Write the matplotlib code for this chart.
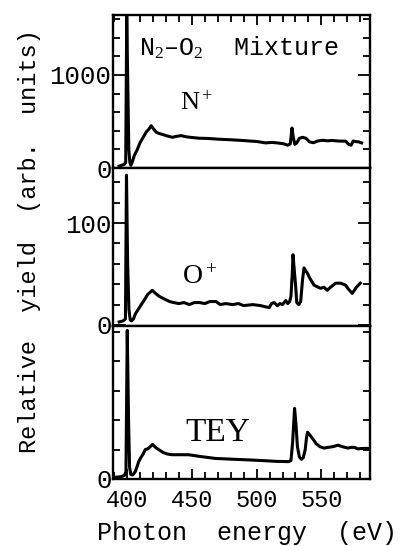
import numpy as np
import matplotlib
matplotlib.use("Agg")
import matplotlib.pyplot as plt
from matplotlib.ticker import MultipleLocator, FixedLocator

plt.rcParams['font.family'] = ['Liberation Mono', 'DejaVu Sans']
plt.rcParams['mathtext.fontset'] = 'custom'
plt.rcParams['mathtext.rm'] = 'Liberation Serif'
plt.rcParams['mathtext.it'] = 'Liberation Serif:italic'

# N+ ion yield (arb. units)
n_energy = [394, 396, 398, 399, 399.8, 400.6, 401.4, 402.2, 403, 404, 405.5, 408, 410, 412.5, 415, 417,
            418.7, 420.5, 422.5, 425, 427.6, 431, 435, 438, 441.7, 446, 450, 455.8, 462, 470, 481, 490,
            500, 507, 512, 517, 521, 524, 526, 527.3, 528.3, 529.5, 531, 533, 535.5, 538, 541, 544, 547,
            551, 555, 558, 563, 568.7, 571, 573, 574.5, 576, 579, 581]
n_yield = [20, 30, 40, 60, 1640, 900, 200, 60, 30, 60, 130, 200, 270, 330, 390, 420,
           455, 420, 385, 370, 360, 345, 330, 340, 348, 335, 328, 320, 318, 310, 303, 295,
           285, 270, 275, 268, 260, 245, 260, 430, 330, 255, 270, 320, 330, 320, 280, 272, 290,
           298, 292, 296, 290, 288, 255, 245, 290, 285, 280, 270]

# O+ ion yield (arb. units)
o_energy = [394, 397, 398.8, 399.6, 400.5, 401.5, 402.5, 403.5, 405, 406.5, 408.5, 411, 413.6, 416,
            419.5, 422, 425, 428, 432.8, 436, 440, 444, 448, 452, 456, 460, 464, 468.7, 472, 476,
            481.5, 486, 490, 497, 503, 509.7, 511.5, 513.5, 516, 518, 520, 522.5, 524, 525.5, 526.5,
            527.5, 528.1, 529, 530, 531, 532.5, 534, 535.5, 536.6, 538, 539.1, 541, 544.3, 546,
            549.4, 552, 554.5, 557, 561, 565, 568.7, 571, 573.8, 577, 580]
o_yield = [3, 4, 6, 147, 60, 15, 5, 4, 6, 11, 15, 20, 25, 30,
           34, 31, 28, 26, 23, 22, 21, 22, 20, 22, 22, 21, 23, 23, 20, 21,
           20, 21, 19, 20, 19, 17, 21, 22, 19, 21, 20, 24, 21, 23, 28,
           50, 69, 55, 40, 22, 20, 23, 45, 56, 53, 51, 46, 39, 38,
           36, 37, 34, 37, 41, 41, 39, 35, 31, 37, 41]

# total electron yield (arb. units)
tey_energy = [391, 395, 398, 399.2, 400.2, 401.2, 402, 403, 404.5, 406.4, 408, 409, 411, 412.5, 414.1,
              416, 418, 419.8, 422, 424.4, 428, 431, 434.6, 440, 447.5, 455, 468, 480, 493.6, 505,
              515, 524.4, 526.5, 527.8, 529.3, 530.3, 531.5, 533, 534.6, 536, 537.5, 538.5, 539.3,
              541, 543.6, 546, 548.8, 552, 555.2, 559, 562.8, 566, 570.5, 573, 575.6, 578, 580.8,
              584, 588]
tey_yield = [1.2, 1.5, 2.4, 5, 101, 40, 8, 3, 2.8, 5, 9, 11.8, 15, 17, 20,
             20.5, 22, 23.5, 21.5, 20, 18, 17, 16.5, 16.5, 16.5, 15.5, 14, 13.5, 13, 12.5,
             12, 11.8, 12.5, 25, 48, 38, 22, 15, 13.4, 14.5, 20, 28, 31.8,
             30, 27, 24, 22, 21, 21.5, 22, 23, 22, 21, 21.5, 21.5, 20.5, 20.7,
             20.8, 20.7]

x_ticks = [400, 450, 500, 550]
W, H = 400, 546


def px(x, y):
    return x / W, 1 - y / H


def style_panel(ax, ylim, major, minor, labels, top_ticks, bottom_ticks):
    ax.set_xlim(389.2, 587.5)
    ax.set_ylim(*ylim)
    for s in ax.spines.values():
        s.set_linewidth(1.7)
    ax.yaxis.set_major_locator(FixedLocator(major))
    ax.set_yticklabels(labels)
    ax.yaxis.set_minor_locator(MultipleLocator(minor))
    ax.tick_params(axis='y', which='both', direction='in', left=True, right=True, width=1.3,
                   labelsize=18.5, pad=1)
    ax.tick_params(axis='y', which='major', length=9)
    ax.tick_params(axis='y', which='minor', length=5)
    ax.xaxis.set_major_locator(FixedLocator(x_ticks))
    ax.xaxis.set_minor_locator(MultipleLocator(10))
    ax.tick_params(axis='x', which='both', direction='in', top=top_ticks, bottom=bottom_ticks,
                   width=1.3, labelbottom=bottom_ticks, labelsize=17, pad=7)
    ax.tick_params(axis='x', which='major', length=7)
    ax.tick_params(axis='x', which='minor', length=5)


fig = plt.figure(figsize=(4, 5.46), dpi=100)

l, _ = px(113, 0)
w = 257 / W
ax_n = fig.add_axes([l, px(0, 168)[1], w, 153 / H])
ax_o = fig.add_axes([l, px(0, 326)[1], w, 158 / H])
ax_t = fig.add_axes([l, px(0, 479)[1], w, 153 / H])

ax_n.plot(n_energy, n_yield, color='black', linewidth=2.2)
ax_o.plot(o_energy, o_yield, color='black', linewidth=2.2)
ax_t.plot(tey_energy, tey_yield, color='black', linewidth=2.2)

style_panel(ax_n, (0, 1645), [0, 1000], 200, ['0', '1000'], True, False)
style_panel(ax_o, (-1, 154), [0, 100], 20, ['0', '100'], False, False)
style_panel(ax_t, (0, 104), [0], 20, ['0'], False, True)

fig.text(*px(139, 48), 'N$_2$\u2013O$_2$  Mixture', fontsize=18, ha='left', va='center')
fig.text(*px(180, 103), 'N$^+$', family='Liberation Serif', fontsize=19, ha='left', va='center')
fig.text(*px(182, 277), 'O$^+$', family='Liberation Serif', fontsize=20, ha='left', va='center')
fig.text(*px(185, 433), 'TEY', family='Liberation Serif', fontsize=24, ha='left', va='center')

fig.text(*px(30, 241), 'Relative  yield  (arb.  units)', fontsize=17, rotation=90,
         ha='center', va='center')
fig.text(*px(247, 533), 'Photon  energy  (eV)', fontsize=18, ha='center', va='center')

fig.savefig('out.png', dpi=100)
